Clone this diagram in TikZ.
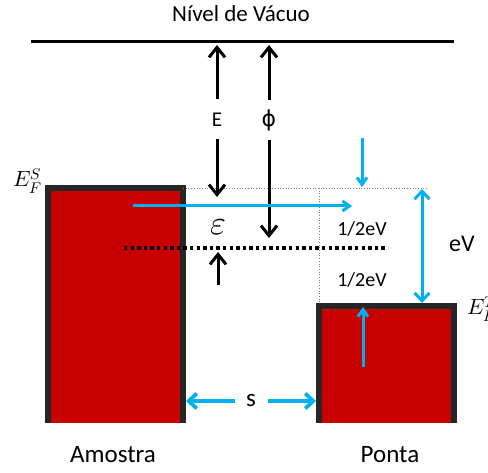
\documentclass[tikz,border=0pt]{standalone}
\usepackage{fontspec}
\usepackage{unicode-math}
\setmainfont{Carlito}
\newfontfamily\greekfont{DejaVu Sans}
\usetikzlibrary{arrows.meta}
\definecolor{bandred}{HTML}{C80000}
\definecolor{bandedge}{HTML}{262626}
\definecolor{tunblue}{HTML}{00B0F0}

\begin{document}
\begin{tikzpicture}[x=1pt,y=-1pt,
  fs/.style={font=\fontsize{#1}{#1}\selectfont},
  band/.style={fill=bandred,draw=bandedge,line width=6pt},
  level/.style={line width=3pt},
  guide/.style={gray,dotted,line width=0.7pt},
  half/.style={line width=3.3pt,dash pattern=on 3.3pt off 3.3pt},
  blkarr/.style={line width=3pt,-{Straight Barb[length=10pt,width=16pt]}},
  blkboth/.style={line width=3pt,{Straight Barb[length=10pt,width=16pt]}-{Straight Barb[length=10pt,width=16pt]}},
  bluarr/.style={tunblue,line width=3pt,-{Straight Barb[length=7pt,width=10pt]}},
  bluboth/.style={tunblue,line width=3pt,{Straight Barb[length=8pt,width=15pt]}-{Straight Barb[length=8pt,width=15pt]}},
  gap/.style={fill=white,text=black,inner sep=0pt,minimum height=40pt,minimum width=#1}]
\useasboundingbox (0,0) rectangle (488,473);

\coordinate (vacL) at (31,42);
\coordinate (vacR) at (454,42);
\coordinate (fermiS) at (183,188);
\coordinate (fermiR) at (428,188);
\coordinate (tipTop) at (319,303);
\coordinate (midL) at (124,248);
\coordinate (midR) at (388,248);

\draw[band] (48,423) |- (183,188) -- (183,423);
\draw[band] (319,423) |- (454,306) -- (454,423);

\draw[level] (vacL) -- (vacR);
\draw[guide] (fermiS) -- (fermiR);
\draw[guide] (fermiS -| tipTop) -- (tipTop);
\draw[half] (midL) -- (midR);

\node[fs=23,anchor=base] (vac) at (241,22) {Nível de Vácuo};
\node[fs=25,anchor=base] (amostra) at (113,462) {Amostra};
\node[fs=25,anchor=base] (ponta) at (390,462) {Ponta};
\node[fs=22,anchor=base west,inner sep=0pt] (efs) at (13,187) {$E_F^S$};
\node[fs=22,anchor=base west,inner sep=0pt] (eft) at (467,315) {$E_F^T$};
\foreach \y/\n in {236/up,287/dn}
   \node[fs=20,anchor=base] (half\n) at (362,\y) {1/2eV};
\node[fs=24,anchor=base] (ev) at (462,252) {eV};
\node[fs=34] (eps) at (218,227) {$\varepsilon$};

\coordinate (Etop) at (217,45);
\coordinate (Ebot) at (217,197);
\coordinate (Ptop) at (269,45);
\coordinate (Pbot) at (269,238);
\draw[blkboth] (Etop) -- node[gap=14pt,pos=0.49,fs=21]{E} (Ebot);
\draw[blkboth] (Ptop) -- node[gap=18pt,pos=0.39,fs=22]{\greekfont ϕ} (Pbot);
\coordinate (epsBot) at (218,285);
\coordinate (epsTop) at (218,252);
\draw[blkarr] (epsBot) -- (epsTop);

\coordinate (inS) at (133,206);
\coordinate (inT) at (352,206);
\draw[bluarr] (inS) -- (inT);
\coordinate (dnA) at (362,138);
\coordinate (dnB) at (362,187);
\draw[bluarr] (dnA) -- (dnB);
\coordinate (upA) at (363,367);
\coordinate (upB) at (363,307);
\draw[bluarr] (upA) -- (upB);
\coordinate (evA) at (422,189);
\coordinate (evB) at (422,303);
\draw[bluboth] (evA) -- (evB);
\coordinate (sA) at (186,401);
\coordinate (sB) at (316,401);
\draw[bluboth,line width=3.8pt] (sA) -- node[gap=33pt,minimum height=20pt,fs=25]{s} (sB);
\end{tikzpicture}
\end{document}
